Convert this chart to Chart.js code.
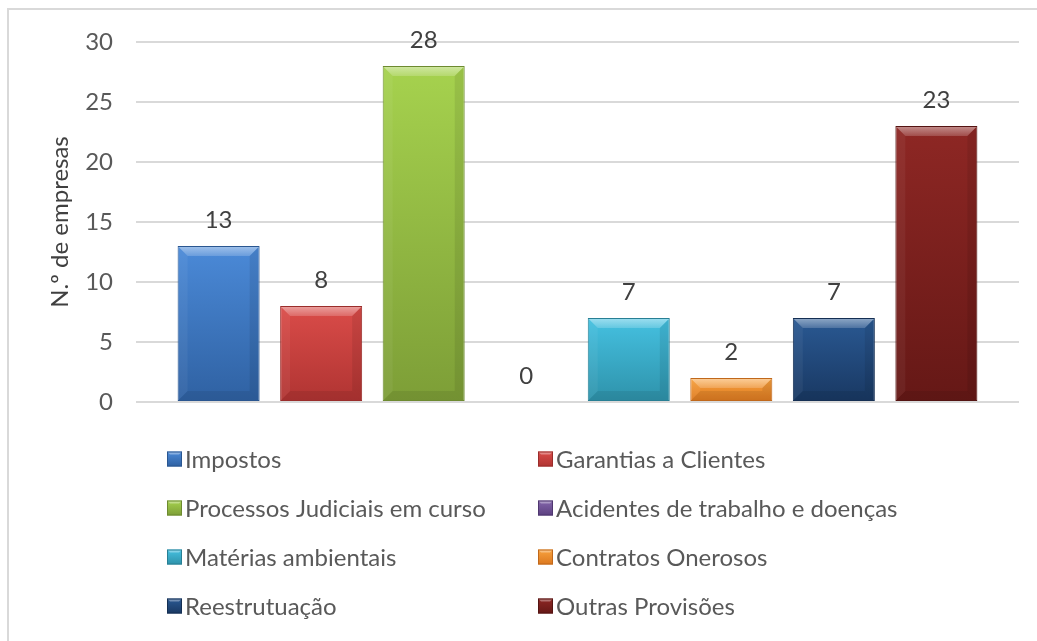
<!DOCTYPE html>
<html>
<head>
<meta charset="utf-8">
<script src="https://cdn.jsdelivr.net/npm/chart.js@4.4.1/dist/chart.umd.min.js"></script>
<style>
  html, body { margin: 0; padding: 0; background: #ffffff; }
  #wrap { width: 1037px; height: 641px; position: relative; }
</style>
</head>
<body>
<div id="wrap"><canvas id="c" width="1037" height="641"></canvas></div>
<script>
// ---- data ----
const categories = ['Provisões'];
const seriesNames = [
  'Impostos',
  'Garantias a Clientes',
  'Processos Judiciais em curso',
  'Acidentes de trabalho e doenças',
  'Matérias ambientais',
  'Contratos Onerosos',
  'Reestrutuação',
  'Outras Provisões'
];
const seriesValues = [13, 8, 28, 0, 7, 2, 7, 23];
const yTickValues = [0, 5, 10, 15, 20, 25, 30];
const yTitle = 'N.º de empresas';

// ---- styles ----
const colorTop    = ['#4b8ad8', '#da4c49', '#a6d24e', '#8466ab', '#45c1e1', '#f8a23e', '#2a5993', '#8e2724'];
const colorBottom = ['#2f61a2', '#b03432', '#7d9e37', '#5c4080', '#2e92aa', '#dc781f', '#193862', '#651816'];
const colorEdge   = ['#2a5690', '#9a2d2b', '#6d8a30', '#4f376f', '#287f94', '#c0681b', '#152f53', '#541412'];
const FONT = 'Lato, "Open Sans", sans-serif';
const TEXT = '#595959';

const datasets = seriesNames.map((name, i) => ({
  label: name,
  data: [seriesValues[i]],
  backgroundColor: (ctx) => {
    const chart = ctx.chart;
    if (!chart.chartArea || ctx.type !== 'data') return colorTop[i];
    const ys = chart.scales.y;
    const yTop = ys.getPixelForValue(ctx.raw || 0);
    const yBot = ys.getPixelForValue(0);
    if (Math.abs(yBot - yTop) < 1) return colorTop[i];
    const g = chart.ctx.createLinearGradient(0, yTop, 0, yBot);
    g.addColorStop(0, colorTop[i]);
    g.addColorStop(1, colorBottom[i]);
    return g;
  },
  borderColor: colorEdge[i],
  borderWidth: (ctx) => (ctx.raw ? 1 : 0),
  borderSkipped: false,
  barPercentage: 0.8,
  categoryPercentage: 0.929
}));

// frame around chart
const framePlugin = {
  id: 'frame',
  beforeDraw(chart) {
    const c = chart.ctx;
    c.save();
    c.fillStyle = '#ffffff';
    c.fillRect(0, 0, chart.width, chart.height);
    c.strokeStyle = '#d9d9d9';
    c.lineWidth = 2;
    c.strokeRect(8, 9, chart.width + 50, chart.height + 50);
    c.restore();
  }
};

// bevel effect on bars
const bevelPlugin = {
  id: 'bevel',
  afterDatasetsDraw(chart) {
    const c = chart.ctx;
    chart.data.datasets.forEach((ds, i) => {
      const meta = chart.getDatasetMeta(i);
      meta.data.forEach((bar) => {
        const h = bar.base - bar.y;
        if (h < 2) return;
        const x0 = bar.x - bar.width / 2 + 1, x1 = bar.x + bar.width / 2 - 1;
        const top = bar.y + 1, bot = bar.base - 1;
        const b = Math.min(9, h / 2.5);
        c.save();
        // top bevel (light)
        c.beginPath();
        c.moveTo(x0, top); c.lineTo(x1, top); c.lineTo(x1 - b, top + b); c.lineTo(x0 + b, top + b); c.closePath();
        const gt = c.createLinearGradient(0, top, 0, top + b);
        gt.addColorStop(0, 'rgba(255,255,255,0.45)');
        gt.addColorStop(1, 'rgba(255,255,255,0.18)');
        c.fillStyle = gt; c.fill();
        // left bevel
        c.beginPath();
        c.moveTo(x0, top); c.lineTo(x0 + b, top + b); c.lineTo(x0 + b, bot - b); c.lineTo(x0, bot); c.closePath();
        c.fillStyle = 'rgba(255,255,255,0.05)'; c.fill();
        // right bevel
        c.beginPath();
        c.moveTo(x1, top); c.lineTo(x1 - b, top + b); c.lineTo(x1 - b, bot - b); c.lineTo(x1, bot); c.closePath();
        c.fillStyle = 'rgba(0,0,0,0.08)'; c.fill();
        // bottom bevel
        c.beginPath();
        c.moveTo(x0, bot); c.lineTo(x1, bot); c.lineTo(x1 - b, bot - b); c.lineTo(x0 + b, bot - b); c.closePath();
        c.fillStyle = 'rgba(0,0,0,0.08)'; c.fill();
        c.restore();
      });
    });
  }
};

// value labels above bars
const labelPlugin = {
  id: 'valueLabels',
  afterDatasetsDraw(chart) {
    const c = chart.ctx;
    c.save();
    c.font = '24px ' + FONT;
    c.fillStyle = '#404040';
    c.textAlign = 'center';
    c.textBaseline = 'alphabetic';
    chart.data.datasets.forEach((ds, i) => {
      const meta = chart.getDatasetMeta(i);
      meta.data.forEach((bar, j) => {
        c.fillText(String(ds.data[j]), bar.x, bar.y - 18);
      });
    });
    c.restore();
  }
};

// two-column legend below the plot
const legendPlugin = {
  id: 'gridLegend',
  afterDraw(chart) {
    const c = chart.ctx;
    const area = chart.chartArea;
    const colX = [area.left + 31, area.left + 402];
    const row0 = area.bottom + 57;
    const rowGap = 49;
    const box = 15;
    c.save();
    c.font = '24px ' + FONT;
    c.textBaseline = 'middle';
    c.textAlign = 'left';
    chart.data.datasets.forEach((ds, i) => {
      const col = i % 2, row = Math.floor(i / 2);
      const x = colX[col], y = row0 + row * rowGap;
      const g = c.createLinearGradient(0, y - box / 2, 0, y + box / 2);
      g.addColorStop(0, colorTop[i]);
      g.addColorStop(1, colorBottom[i]);
      c.fillStyle = g;
      c.fillRect(x, y - box / 2, box, box);
      // small bevel
      c.beginPath();
      c.moveTo(x, y - box / 2); c.lineTo(x + box, y - box / 2); c.lineTo(x + box - 3, y - box / 2 + 3); c.lineTo(x + 3, y - box / 2 + 3); c.closePath();
      c.fillStyle = 'rgba(255,255,255,0.35)'; c.fill();
      c.strokeStyle = colorEdge[i]; c.lineWidth = 1;
      c.strokeRect(x + 0.5, y - box / 2 + 0.5, box - 1, box - 1);
      c.fillStyle = TEXT;
      c.fillText(ds.label, x + box + 3, y + 1);
    });
    c.restore();
  }
};

new Chart(document.getElementById('c'), {
  type: 'bar',
  data: { labels: categories, datasets },
  options: {
    responsive: false,
    animation: false,
    devicePixelRatio: 1,
    layout: { padding: { top: 42, right: 18, bottom: 239, left: 0 } },
    plugins: {
      legend: { display: false },
      tooltip: { enabled: false }
    },
    scales: {
      x: { display: false, offset: true },
      y: {
        min: 0, max: 30,
        afterFit(scale) { scale.width = 136; },
        afterBuildTicks(scale) { scale.ticks = yTickValues.map(v => ({ value: v })); },
        border: { display: false },
        grid: { color: '#d9d9d9', lineWidth: 2, drawTicks: false },
        ticks: { color: TEXT, font: { family: FONT, size: 24 }, padding: 23 },
        title: {
          display: true, text: yTitle, color: '#404040',
          font: { family: FONT, size: 24 },
          padding: { top: 46, bottom: 0 }
        }
      }
    }
  },
  plugins: [framePlugin, bevelPlugin, labelPlugin, legendPlugin]
});
</script>
</body>
</html>
